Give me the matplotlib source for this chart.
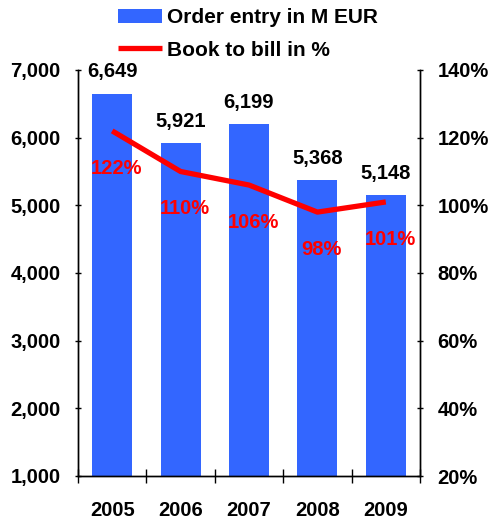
import matplotlib
matplotlib.use("Agg")
import matplotlib.pyplot as plt
import numpy as np
from matplotlib.ticker import FuncFormatter, FixedLocator

plt.rcParams['font.family'] = ['Liberation Sans', 'DejaVu Sans']
plt.rcParams['font.weight'] = 'bold'

# data
years = ['2005', '2006', '2007', '2008', '2009']
order_entry = [6649, 5921, 6199, 5368, 5148]          # M EUR
book_to_bill = [122, 110, 106, 98, 101]              # %

BLUE = '#3366ff'
RED = '#ff0000'
FS = 14.5

fig = plt.figure(figsize=(4.92, 5.2), dpi=100)
ax = fig.add_axes([78 / 492, 1 - 476 / 520, 342 / 492, 406 / 520])
ax2 = ax.twinx()

x = np.arange(len(years))
bars = ax.bar(x, np.array(order_entry) - 1000, bottom=1000, width=0.585,
              color=BLUE, label='Order entry in M EUR', zorder=2)
ax.set_xlim(-0.5, len(years) - 0.5)
ax.set_ylim(1000, 7000)
ax.set_yticks(np.arange(1000, 7001, 1000))
ax.yaxis.set_major_formatter(FuncFormatter(lambda v, p: f'{int(v):,}'))

# bar value labels
for xi, v in zip(x, order_entry):
    ax.annotate(f'{v:,}', (xi, v), xytext=(0, 9), textcoords='offset points',
                ha='center', va='bottom', fontsize=FS, fontweight='bold', color='black')

# x ticks: marks at category boundaries, labels at centers
ax.xaxis.set_major_locator(FixedLocator(np.arange(-0.5, len(years), 1.0)))
ax.xaxis.set_minor_locator(FixedLocator(x))
ax.set_xticklabels([''] * (len(years) + 1))
ax.set_xticklabels(years, minor=True)
ax.tick_params(axis='x', which='major', direction='inout', length=10, width=1)
ax.tick_params(axis='x', which='minor', length=0, pad=18, labelsize=FS)
ax.tick_params(axis='y', direction='inout', length=5, width=1, pad=10, labelsize=FS)

# line on secondary axis
line, = ax2.plot(x, book_to_bill, color=RED, lw=3.8, solid_capstyle='butt',
                 label='Book to bill in %', zorder=3)
ax2.set_ylim(20, 140)
ax2.set_yticks(np.arange(20, 141, 20))
ax2.yaxis.set_major_formatter(FuncFormatter(lambda v, p: f'{int(v)}%'))
ax2.tick_params(axis='y', direction='inout', length=5, width=1, pad=10, labelsize=FS)

for xi, v in zip(x, book_to_bill):
    ax2.annotate(f'{v}%', (xi, v), xytext=(3, -27), textcoords='offset points',
                 ha='center', va='center', fontsize=FS, fontweight='bold', color=RED)

for a in (ax, ax2):
    a.spines['top'].set_visible(False)
    for s in ('left', 'right', 'bottom'):
        a.spines[s].set_linewidth(1)
        a.spines[s].set_color('black')

fig.legend([bars, line], ['Order entry in M EUR', 'Book to bill in %'],
           loc='upper left', bbox_to_anchor=(118 / 492, 1 - 8 / 520),
           frameon=False, fontsize=15, handlelength=2.1, handleheight=0.65,
           handletextpad=0.25, labelspacing=0.65, borderpad=0, borderaxespad=0)

fig.savefig('out.png', dpi=100)
